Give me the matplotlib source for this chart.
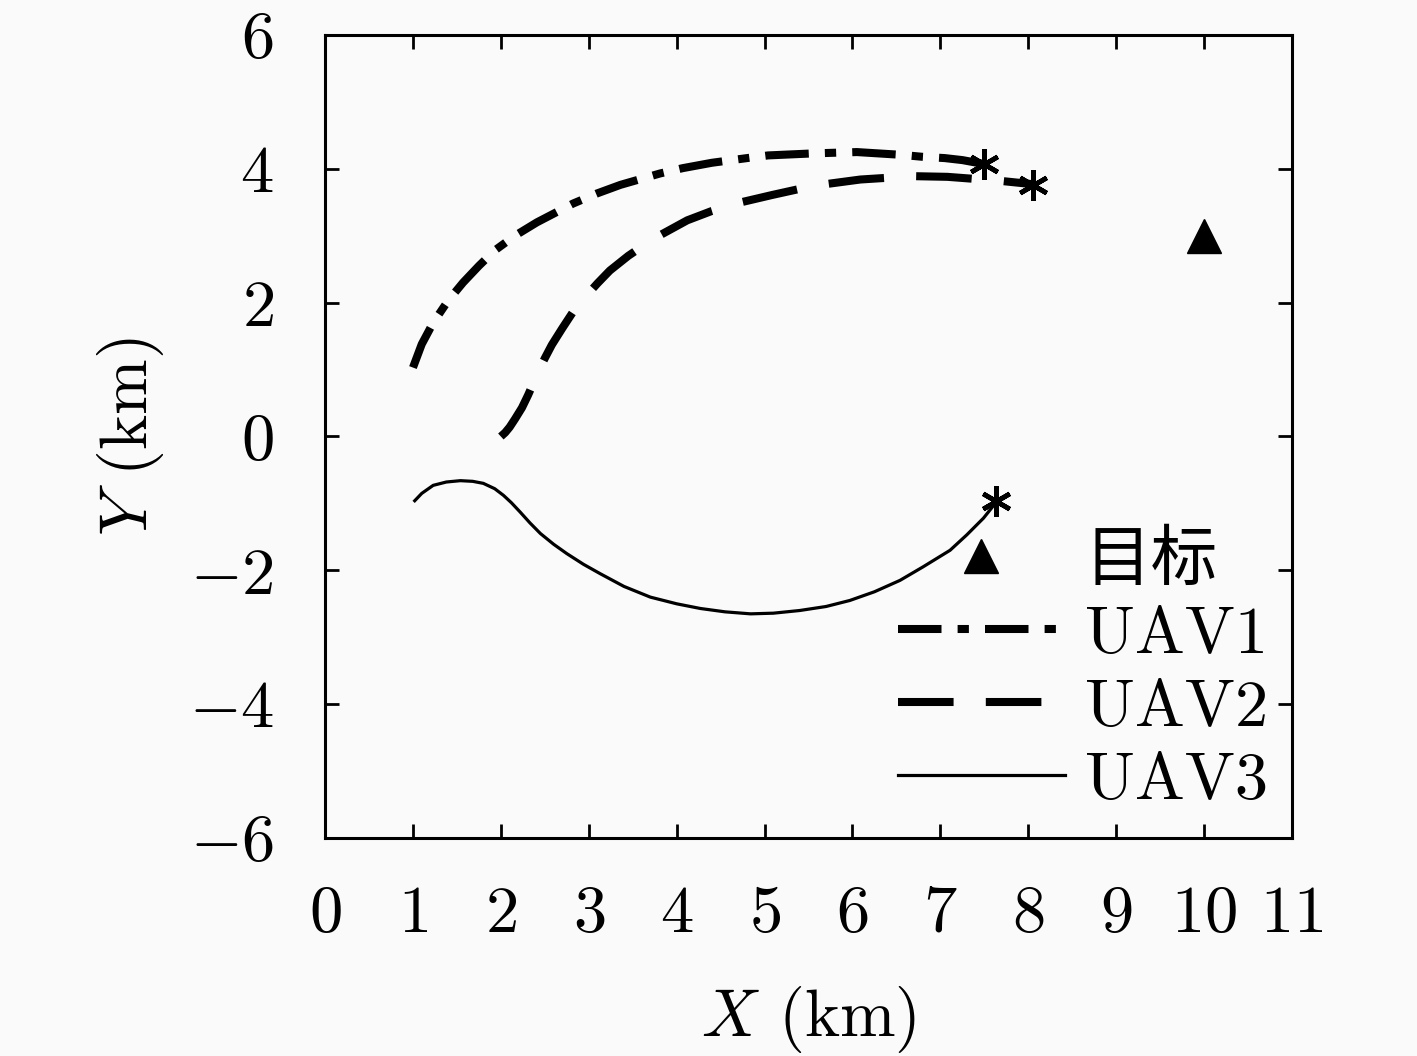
import matplotlib
matplotlib.use("Agg")
import matplotlib.pyplot as plt

plt.rcParams['font.family'] = ['cmr10', 'Noto Sans CJK SC']
plt.rcParams['mathtext.fontset'] = 'cm'
plt.rcParams['axes.formatter.use_mathtext'] = True
plt.rcParams['axes.unicode_minus'] = True

# trajectories (km)
uav1_x = [1.00, 1.10, 1.23, 1.40, 1.57, 1.75, 1.93, 2.16, 2.41, 2.82, 3.09, 3.36,
          3.81, 4.07, 4.40, 4.80, 5.04, 5.55, 6.05, 6.54, 6.79, 7.05, 7.25, 7.50]
uav1_y = [1.03, 1.38, 1.70, 2.03, 2.30, 2.55, 2.78, 3.00, 3.20, 3.48, 3.63, 3.76,
          3.93, 4.01, 4.09, 4.16, 4.20, 4.23, 4.25, 4.21, 4.18, 4.16, 4.13, 4.07]

uav2_x = [2.00, 2.05, 2.10, 2.16, 2.24, 2.31, 2.37, 2.43, 2.50, 2.58, 2.70, 2.83,
          2.97, 3.10, 3.24, 3.45, 3.73, 4.12, 4.40, 4.70, 5.09, 5.40, 5.69, 6.09,
          6.69, 7.08, 7.68, 8.05]
uav2_y = [0.00, 0.06, 0.14, 0.26, 0.43, 0.62, 0.80, 0.98, 1.17, 1.37, 1.62, 1.88,
          2.10, 2.29, 2.48, 2.70, 2.95, 3.23, 3.37, 3.49, 3.61, 3.70, 3.77, 3.84,
          3.89, 3.88, 3.82, 3.77]

uav3_x = [1.02, 1.10, 1.23, 1.38, 1.54, 1.68, 1.80, 1.93, 2.03, 2.12, 2.22, 2.33,
          2.45, 2.60, 2.75, 2.94, 3.13, 3.40, 3.70, 4.00, 4.27, 4.55, 4.84, 5.10,
          5.40, 5.70, 5.97, 6.25, 6.54, 6.80, 7.11, 7.30, 7.49, 7.63]
uav3_y = [-0.96, -0.85, -0.73, -0.68, -0.66, -0.67, -0.70, -0.78, -0.88, -0.99, -1.13, -1.29,
          -1.45, -1.61, -1.75, -1.91, -2.05, -2.24, -2.40, -2.50, -2.57, -2.62, -2.65, -2.64,
          -2.60, -2.54, -2.45, -2.32, -2.15, -1.95, -1.70, -1.47, -1.22, -0.99]

# end points (asterisks) and the target
end_x = [7.50, 8.05, 7.63]
end_y = [4.07, 3.76, -0.97]
target_x = [10.0]
target_y = [3.0]

labels = ['目标', 'UAV1', 'UAV2', 'UAV3']
xticks = list(range(0, 12))
yticks = [-6, -4, -2, 0, 2, 4, 6]

fs = 48
fig = plt.figure(figsize=(14.17, 10.56), dpi=100, facecolor='#fafafa')
ax = fig.add_axes([0.2294, 0.2064, 0.6824, 0.7605])
ax.set_facecolor('#fafafa')

l1, = ax.plot(uav1_x, uav1_y, color='black', lw=5.8, dash_capstyle='butt',
              solid_joinstyle='round', linestyle=(0, (5.4, 2.0, 1.4, 2.0)))
l2, = ax.plot(uav2_x, uav2_y, color='black', lw=5.8, dash_capstyle='butt',
              solid_joinstyle='round', linestyle=(0, (6.9, 4.0)))
l3, = ax.plot(uav3_x, uav3_y, color='black', lw=2.3, solid_joinstyle='round')
ax.plot(end_x, end_y, linestyle='none', marker=(6, 2, 0), markersize=22,
        markeredgewidth=3.4, color='black', zorder=5)
tg, = ax.plot(target_x, target_y, linestyle='none', marker='^', markersize=24,
              color='black')

ax.set_xlim(0, 11)
ax.set_ylim(-6, 6)
ax.set_xticks(xticks)
ax.set_yticks(yticks)
ax.tick_params(direction='in', length=10, width=2, top=True, right=True,
               labelsize=fs)
ax.tick_params(axis='x', pad=34)
ax.tick_params(axis='y', pad=37)
for sp in ax.spines.values():
    sp.set_linewidth(2.2)

ax.set_xlabel(r'$X$ (km)', fontsize=fs, labelpad=28)
ax.set_ylabel(r'$Y$ (km)', fontsize=fs, labelpad=16)

leg = ax.legend([tg, l1, l2, l3], labels, loc='lower right',
                bbox_to_anchor=(0.975, 0.033), frameon=False, fontsize=fs,
                handlelength=2.5, handletextpad=0.3, labelspacing=0.2,
                borderpad=0, borderaxespad=0, numpoints=1)

fig.savefig('out.png', dpi=100, facecolor=fig.get_facecolor())
